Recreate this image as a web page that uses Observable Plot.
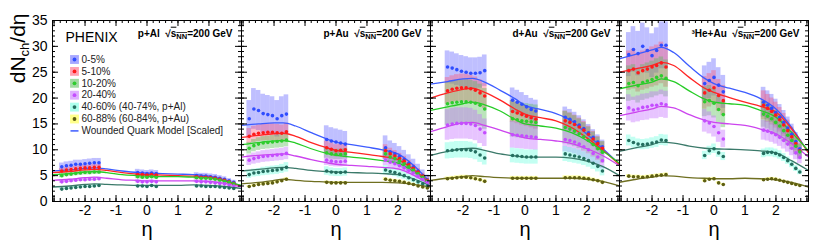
<!DOCTYPE html>
<html><head><meta charset="utf-8">
<script src="https://cdn.jsdelivr.net/npm/d3@7"></script>
<script src="https://cdn.jsdelivr.net/npm/@observablehq/plot@0.6"></script>
<style>body{margin:0;background:#fff;}</style>
</head><body><div id="chart"></div>
<script>
// ---------- data ----------
const systems = ["p+Al", "p+Au", "d+Au", "3He+Au"];
const systemLabels = ["p+Al", "p+Au", "d+Au", "\u00B3He+Au"];
const centralities = ["0-5%", "5-10%", "10-20%", "20-40%", "40-60% (40-74%, p+Al)", "60-88% (60-84%, p+Au)"];
const modelLabel = "Wounded Quark Model [Scaled]";

const pAlEta = [-2.75,-2.6,-2.45,-2.3,-2.15,-2.0,-1.85,-1.7,-1.55, -0.3,-0.15,0,0.15,0.3, 1.6,1.75,1.9,2.05,2.2,2.35,2.5,2.65,2.8];
const pAlVals = [
  [6.7,6.9,7.0,7.2,7.2,7.3,7.4,7.5,7.5, 5.6,5.5,5.4,5.5,5.4, 5.0,4.9,4.9,4.8,4.7,4.5,4.3,4.0,3.7],
  [5.9,6.1,6.2,6.3,6.4,6.5,6.5,6.6,6.6, 5.2,5.2,5.1,5.2,5.1, 4.8,4.7,4.7,4.6,4.5,4.3,4.1,3.8,3.5],
  [5.0,5.2,5.3,5.4,5.5,5.6,5.6,5.7,5.7, 4.8,4.7,4.7,4.8,4.7, 4.6,4.5,4.5,4.4,4.3,4.1,3.9,3.7,3.4],
  [3.8,3.9,4.0,4.1,4.2,4.2,4.3,4.3,4.4, 3.9,3.8,3.8,3.9,3.8, 3.9,3.8,3.8,3.7,3.6,3.5,3.4,3.2,3.0],
  [2.4,2.5,2.6,2.7,2.8,2.9,2.9,3.0,3.1, 3.0,3.0,2.9,3.1,2.9, 3.0,3.0,2.9,2.9,2.9,2.8,2.7,2.6,2.5]
];
const pAlErr = [0.11, 0.08, 0.08, 0.08, 0.08];

const pAuEta = [-2.8,-2.65,-2.5,-2.35,-2.2,-2.05,-1.9,-1.75,-1.6, -0.3,-0.15,0,0.15,0.3, 1.6,1.75,1.9,2.05,2.2,2.35,2.5,2.65,2.8,2.95];
const pAuVals = [
  [16.0,17.9,17.6,17.0,16.8,16.6,16.0,16.6,16.9, 12.0,11.7,11.5,11.3,11.1, 10.4,9.6,9.2,8.7,8.1,7.4,6.7,5.9,5.0,4.2],
  [12.6,13.0,13.2,13.3,13.4,13.4,13.3,13.2,13.5, 10.4,10.1,9.8,9.9,10.0, 9.8,9.2,8.8,8.3,7.8,7.1,6.4,5.7,4.9,4.1],
  [10.3,10.8,11.1,11.3,11.4,11.5,11.6,11.7,11.9, 9.4,9.2,9.1,9.1,9.2, 9.2,8.6,8.3,7.8,7.3,6.7,6.1,5.4,4.7,3.9],
  [8.0,8.3,8.5,8.7,8.8,8.9,9.0,9.1,9.3, 8.0,7.8,7.7,7.7,7.8, 8.0,7.6,7.3,6.9,6.5,6.0,5.5,4.9,4.3,3.7],
  [5.2,5.5,5.6,5.8,5.9,6.0,6.1,6.3,6.6, 5.9,5.7,5.6,5.6,5.7, 6.1,5.8,5.6,5.3,5.0,4.6,4.2,3.8,3.4,3.0],
  [2.9,3.1,3.3,3.4,3.5,3.6,3.8,4.0,4.3, 3.7,3.6,3.6,3.6,3.6, 4.3,4.1,4.0,3.9,3.7,3.5,3.3,3.0,2.8,2.6]
];
const pAuErr = [0.22, 0.12, 0.11, 0.13, 0.14, 0.07];

const dAuEta = [-2.5,-2.35,-2.2,-2.05,-1.9,-1.75,-1.6,-1.45,-1.3, -0.4,-0.25,-0.1,0.05,0.2,0.35, 1.3,1.45,1.6,1.75,1.9,2.05,2.2,2.35,2.5];
const dAuVals = [
  [26.0,25.8,25.5,25.2,25.0,24.8,24.8,24.9,25.3, 19.6,19.2,18.8,18.3,17.8,17.5, 16.3,15.9,15.4,14.8,14.1,13.3,12.4,11.5,10.6],
  [21.4,21.7,21.9,22.0,22.0,21.8,21.5,21.0,20.4, 17.4,17.1,16.8,16.5,16.2,15.9, 15.6,15.3,14.9,14.4,13.8,13.0,12.1,11.2,10.3],
  [18.9,19.1,19.2,19.3,19.3,19.2,19.0,18.6,17.9, 16.0,15.8,15.6,15.5,15.4,15.3, 14.3,14.0,13.6,13.1,12.5,11.8,11.0,10.2,9.5],
  [14.8,15.0,15.1,15.1,15.1,15.0,14.7,14.0,13.3, 12.9,12.8,12.7,12.6,12.5,12.4, 12.0,11.8,11.5,11.1,10.6,10.0,9.3,8.6,7.9],
  [9.8,9.9,10.0,10.0,10.0,9.9,9.6,9.0,8.4, 8.9,8.8,8.7,8.6,8.6,8.6, 9.2,9.0,8.8,8.6,8.3,7.9,7.4,6.8,5.9],
  [4.4,4.5,4.6,4.7,4.7,4.6,4.4,4.2,3.9, 4.5,4.5,4.5,4.5,4.5,4.5, 4.6,4.6,4.6,4.6,4.5,4.4,4.2,4.0,3.7]
];
const dAuErr = [0.12, 0.12, 0.22, 0.2, 0.16, 0.08];

const heAuEta = [-2.75,-2.6,-2.45,-2.3,-2.15,-2.0,-1.85,-1.7,-1.55, -0.3,-0.15,0,0.15,0.3, 1.6,1.73,1.86,1.99,2.12,2.25,2.38,2.51,2.64,2.77];
const heAuVals = [
  [28.4,29.4,28.6,30.0,29.2,28.2,29.2,30.2,30.2, 22.8,23.4,24.0,22.5,21.2, 19.2,18.6,18.0,17.2,16.3,15.3,14.2,13.0,11.6,10.2],
  [25.3,25.6,24.9,25.3,25.6,26.0,26.3,26.8,26.0, 21.0,21.5,22.0,20.5,19.5, 18.6,18.0,17.4,16.7,15.8,14.8,13.7,12.5,11.2,9.8],
  [22.8,23.0,22.4,23.0,23.3,23.6,24.0,24.3,23.8, 19.3,19.5,19.0,17.8,16.8, 16.9,16.5,16.0,15.3,14.6,13.7,12.8,11.8,10.7,9.6],
  [18.1,17.7,17.9,18.2,18.3,18.6,18.6,18.9,18.7, 15.6,15.2,14.5,13.3,12.1, 13.8,13.6,13.3,12.9,12.4,11.8,11.1,10.3,9.4,8.5],
  [11.8,11.4,11.1,11.0,11.1,11.3,11.5,11.9,11.8, 8.9,9.8,10.2,9.4,8.7, 9.3,9.5,9.5,9.3,9.0,8.5,7.9,7.2,6.4,5.7],
  [4.9,4.8,4.8,4.7,4.8,4.9,5.0,5.1,5.2, 4.0,4.3,4.4,3.6,3.3, 4.2,4.3,4.4,4.3,4.1,3.9,3.7,3.5,3.3,3.1]
];
const heAuErr = [0.15, 0.15, 0.15, 0.14, 0.09, 0.06];

// Wounded Quark Model curves (scaled), sampled on a common eta grid
const wqmEta = [-3.05,-2.5,-2.0,-1.7,-1.3,-0.8,-0.3,0.0,0.5,1.0,1.5,2.0,2.5,3.05];
const pAlWqm = [
  [5.9,6.1,6.4,6.5,6.3,5.9,5.6,5.5,5.4,5.3,5.2,4.9,4.2,3.0],
  [5.6,5.8,6.1,6.2,6.0,5.6,5.3,5.2,5.1,5.0,4.9,4.7,4.0,2.9],
  [5.2,5.4,5.7,5.8,5.6,5.2,5.0,4.9,4.8,4.8,4.7,4.6,4.0,3.1],
  [4.1,4.3,4.6,4.7,4.5,4.2,4.1,4.0,4.0,4.0,4.0,3.9,3.5,2.8],
  [2.8,3.0,3.3,3.4,3.3,3.2,3.1,3.1,3.1,3.1,3.2,3.1,2.9,2.5]
];
const pAuWqm = [
  [14.7,15.0,15.2,15.2,14.6,13.3,12.1,11.5,11.0,10.5,10.0,9.2,7.0,3.6],
  [12.4,12.8,13.1,13.2,12.6,11.4,10.4,9.9,9.5,9.1,8.7,8.1,6.2,3.5],
  [11.0,11.4,11.7,11.8,11.3,10.2,9.3,8.9,8.6,8.3,7.9,7.4,5.8,3.4],
  [8.6,8.9,9.1,9.2,8.8,8.1,7.5,7.2,7.0,6.8,6.6,6.3,5.1,3.2],
  [5.9,6.2,6.5,6.6,6.4,6.0,5.8,5.7,5.6,5.5,5.4,5.2,4.4,3.0],
  [3.4,3.7,4.1,4.3,4.1,3.9,3.8,3.7,3.7,3.7,3.7,3.6,3.3,2.8]
];
const dAuWqm = [
  [22.7,23.2,23.7,23.8,23.1,21.5,19.8,18.6,17.8,17.0,15.6,13.0,10.3,7.2],
  [20.0,21.0,21.7,21.9,21.1,19.6,17.8,16.9,16.2,15.6,14.3,12.3,10.0,7.1],
  [17.6,18.3,18.9,19.2,18.7,17.5,15.8,15.0,14.6,14.2,13.3,11.8,9.8,7.4],
  [13.5,14.5,15.2,15.3,14.7,13.8,12.8,12.3,12.0,11.7,11.2,10.2,8.9,6.9],
  [8.9,9.7,10.2,10.3,9.9,9.2,8.8,8.6,8.6,8.6,8.4,7.8,6.8,5.0],
  [4.1,4.5,4.8,5.0,4.8,4.6,4.5,4.5,4.5,4.5,4.5,4.3,3.9,3.0]
];
const heAuWqm = [
  [27.6,28.5,29.3,29.8,28.8,26.2,23.8,22.8,21.9,21.1,19.9,17.9,14.4,9.4],
  [25.0,25.7,26.3,26.9,26.3,24.0,21.9,21.1,20.1,19.2,18.4,17.3,14.1,9.4],
  [21.8,22.5,23.1,23.7,23.2,21.4,19.8,19.2,18.9,18.6,17.6,16.3,13.4,9.8],
  [16.6,17.3,17.9,18.4,18.1,16.8,15.7,15.3,15.0,14.7,14.0,13.1,11.2,8.6],
  [9.7,10.4,11.0,11.5,11.3,10.7,10.3,10.2,10.1,10.0,9.8,9.4,7.9,6.0],
  [3.7,4.3,4.7,5.0,4.9,4.6,4.5,4.4,4.4,4.5,4.4,4.2,3.7,2.8]
];

// axis ticks
const xTickLabels = [-2, -1, 0, 1, 2];
const xMajor = [-3, -2, -1, 0, 1, 2, 3];
const yTickLabels = [0, 5, 10, 15, 20, 25, 30, 35];

// ---------- styling ----------
const dotColors  = ["#2f4dff", "#ff1a1a", "#2ecc2e", "#c44dff", "#246e5f", "#5e5e12"];
const boxColors  = ["#6060ff", "#ff5575", "#55bb55", "#c46cff", "#6affdf", "#ffff2a"];
const lineColors = ["#3d5cff", "#ff2424", "#26cc26", "#cc44ee", "#3b7a6a", "#6f6f20"];

const W = 822, H = 250, mL = 52, mR = 14, mT = 20, mB = 49;
const panelW = (W - mL - mR) / 4, panelH = H - mT - mB;
const hw = 0.075;

// ---------- tables ----------
const etaBySys = [pAlEta, pAuEta, dAuEta, heAuEta];
const valsBySys = [pAlVals, pAuVals, dAuVals, heAuVals];
const errBySys = [pAlErr, pAuErr, dAuErr, heAuErr];
const wqmBySys = [pAlWqm, pAuWqm, dAuWqm, heAuWqm];

const points = [];
systems.forEach((s, si) => valsBySys[si].forEach((vals, ci) => vals.forEach((v, k) =>
  points.push({sys: s, c: ci, eta: etaBySys[si][k], v, e: v * errBySys[si][ci]}))));
const curves = [];
systems.forEach((s, si) => wqmBySys[si].forEach((vals, ci) => vals.forEach((v, k) =>
  curves.push({sys: s, c: ci, eta: wqmEta[k], v}))));

const xMinor = d3.range(-30, 31, 2).map(v => v / 10);
const yMinor = d3.range(0, 36, 1);

const marks = [];
// error boxes
centralities.forEach((c, ci) => marks.push(Plot.rect(points.filter(d => d.c === ci), {
  fx: "sys", x1: d => d.eta - hw, x2: d => d.eta + hw, y1: d => d.v - d.e, y2: d => d.v + d.e,
  fill: boxColors[ci], fillOpacity: 0.4
})));
// model curves
centralities.forEach((c, ci) => marks.push(Plot.line(curves.filter(d => d.c === ci), {
  fx: "sys", x: "eta", y: "v", stroke: lineColors[ci], strokeWidth: 1.3, curve: "monotone-x"
})));
// data points
centralities.forEach((c, ci) => marks.push(Plot.dot(points.filter(d => d.c === ci), {
  fx: "sys", x: "eta", y: "v", r: 1.8, fill: dotColors[ci]
})));
// inward ticks on all four sides of each panel
marks.push(
  Plot.tickY(yTickLabels, {y: d => d, insetRight: panelW - 6, stroke: "#000"}),
  Plot.tickY(yTickLabels, {y: d => d, insetLeft: panelW - 6, stroke: "#000"}),
  Plot.tickY(yMinor, {y: d => d, insetRight: panelW - 3, stroke: "#000"}),
  Plot.tickY(yMinor, {y: d => d, insetLeft: panelW - 3, stroke: "#000"}),
  Plot.tickX(xMajor, {x: d => d, insetTop: panelH - 6, stroke: "#000"}),
  Plot.tickX(xMajor, {x: d => d, insetBottom: panelH - 6, stroke: "#000"}),
  Plot.tickX(xMinor, {x: d => d, insetTop: panelH - 3, stroke: "#000"}),
  Plot.tickX(xMinor, {x: d => d, insetBottom: panelH - 3, stroke: "#000"}),
  Plot.frame({stroke: "#000", strokeWidth: 1})
);
// axes
marks.push(
  Plot.axisX({ticks: xTickLabels, tickSize: 0, tickPadding: 4, fontSize: 14, label: null, tickFormat: d => String(d)}),
  Plot.axisY({ticks: yTickLabels, tickSize: 0, tickPadding: 5, fontSize: 14, label: null, tickFormat: d => String(d)}),
  Plot.text(["\u03B7"], {x: null, y: null, text: d => d, frameAnchor: "bottom", dy: 28, fontSize: 20, lineAnchor: "middle"}),
  Plot.text(["dNch/d\u03B7"], {fx: () => "p+Al", x: null, y: null, text: d => d, frameAnchor: "top-left",
    dx: -34, dy: -7, rotate: -90, textAnchor: "end", lineAnchor: "middle", fontSize: 21})
);
// panel titles
marks.push(Plot.text(systems, {fx: d => d, x: null, y: null, text: d => systemLabels[systems.indexOf(d)] + "  \u221AsNN=200 GeV",
  frameAnchor: "top-right", dx: -9, dy: 13, textAnchor: "end", lineAnchor: "middle", fontSize: 10, fontWeight: "bold"}));
marks.push(Plot.text(["PHENIX"], {fx: () => "p+Al", x: null, y: null, text: d => d, frameAnchor: "top-left",
  dx: 13, dy: 17, textAnchor: "start", lineAnchor: "middle", fontSize: 14}));
// legend
const legY0 = 39, legStep = 11.9;
centralities.forEach((c, i) => {
  const base = {fx: () => "p+Al", x: null, y: null, frameAnchor: "top-left", dy: legY0 + i * legStep};
  marks.push(Plot.dot([c], {...base, dx: 22, symbol: "square", r: 5, fill: boxColors[i], fillOpacity: 0.55}));
  marks.push(Plot.dot([c], {...base, dx: 22, r: 1.9, fill: dotColors[i]}));
  marks.push(Plot.text([c], {...base, dx: 29, text: d => d, textAnchor: "start", lineAnchor: "middle", fontSize: 10, fill: "#222"}));
});
{
  const base = {fx: () => "p+Al", x: null, y: null, frameAnchor: "top-left", dy: legY0 + 6 * legStep};
  const lineSymbol = {draw(ctx) { ctx.moveTo(-4, 0); ctx.lineTo(4, 0); }};
  marks.push(Plot.dot([modelLabel], {...base, dx: 22, r: 4, symbol: lineSymbol, stroke: lineColors[0], strokeWidth: 1.5, fill: "none"}));
  marks.push(Plot.text([modelLabel], {...base, dx: 29, text: d => d, textAnchor: "start", lineAnchor: "middle", fontSize: 10, fill: "#222"}));
}

const svg = Plot.plot({
  width: W, height: H, marginLeft: mL, marginRight: mR, marginTop: mT, marginBottom: mB,
  style: {fontFamily: "'Liberation Sans', Arial, Helvetica, sans-serif", background: "#fff", color: "#000"},
  fx: {domain: systems, padding: 0, axis: null},
  x: {domain: [-3.05, 3.05]},
  y: {domain: [0, 35]},
  marks
});
document.getElementById("chart").appendChild(svg);

// rich text: subscripts / overline
d3.select(svg).selectAll("text").each(function() {
  const s = this.textContent;
  if (s.includes("\u221AsNN")) {
    const sys = s.split("  ")[0];
    const t = d3.select(this); t.text(null);
    t.append("tspan").text(sys + "  \u221A");
    t.append("tspan").attr("text-decoration", "overline").text("s");
    t.append("tspan").attr("dy", 2.5).attr("font-size", 7.5).attr("text-decoration", "overline").text("NN");
    t.append("tspan").attr("dy", -2.5).text("=200 GeV");
  } else if (s === "dNch/d\u03B7") {
    const t = d3.select(this); t.text(null);
    t.append("tspan").text("dN");
    t.append("tspan").attr("dy", 4).attr("font-size", 13).text("ch");
    t.append("tspan").attr("dy", -4).text("/d\u03B7");
  }
});
</script>
</body></html>
